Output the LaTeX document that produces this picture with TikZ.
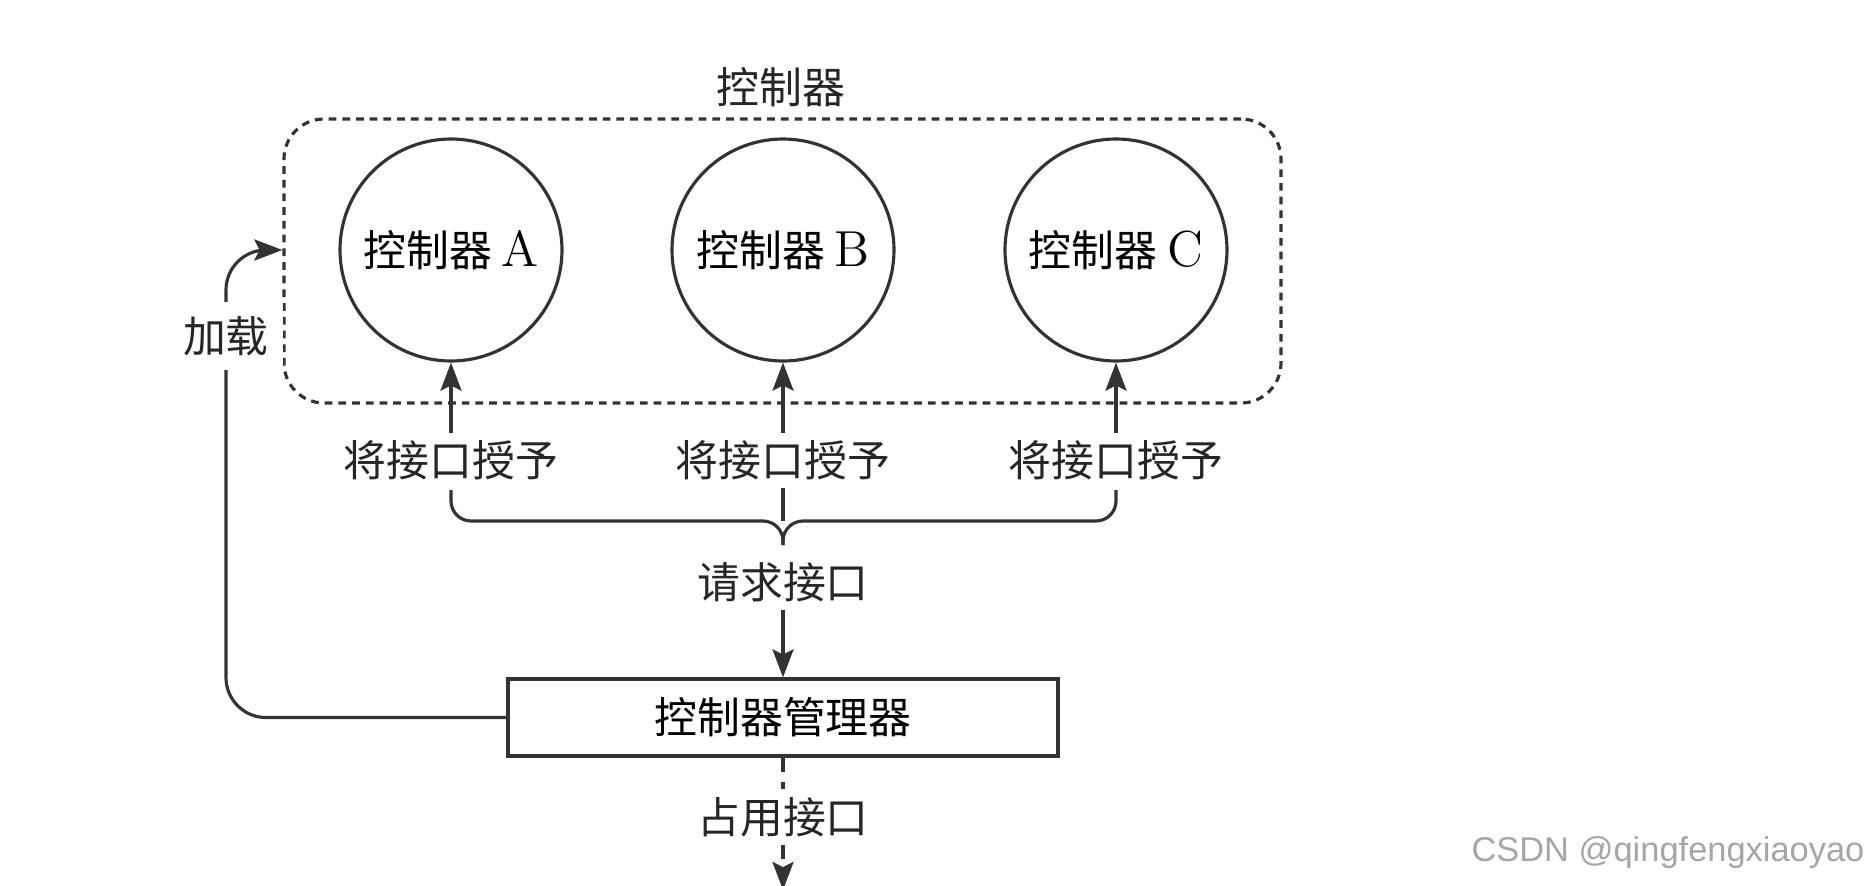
\documentclass[tikz,border=0pt]{standalone}
\usepackage{fontspec}
\newfontfamily\cjk{Noto Sans CJK SC}
\newfontfamily\wmfont{Liberation Sans}
\usetikzlibrary{arrows.meta, positioning}

\begin{document}
\begin{tikzpicture}[
		% Base line and arrow styles
		line/.style={draw=black!80, line width=0.9pt},
		arr/.style={line, -{Stealth[length=8pt, width=6pt, inset=1.5pt]}},
		% Style for the controller circles
		ctrl/.style={line, circle, minimum size=2.22cm, inner sep=0pt, font=\cjk\fontsize{12.2}{14}\selectfont},
		% Style for the dotted group frame
		group/.style={draw=black!80, line width=0.9pt, dash pattern=on 2.2pt off 1.7pt, rounded corners=0.4cm, minimum width=9.97cm, minimum height=2.84cm},
		% Manager box
		mgrbox/.style={line, rectangle, minimum width=5.5cm, minimum height=0.77cm, font=\cjk\fontsize{12.2}{14}\selectfont},
		% Text labels
		lbl/.style={font=\cjk\fontsize{12.2}{14}\selectfont, text=black!85, inner sep=2pt}
	]
	
	\useasboundingbox (0,0) rectangle (18.69,8.85);
	
	% ==============================================================================
	% CONTROLLER GROUP
	% ==============================================================================
	\node[group] (grp) at (7.825, 6.24) {};
	\node[lbl] (grptitle) at (7.81, 7.98) {控制器};
	
	\node[ctrl] (ctrlA) at (4.51, 6.35) {控制器 {\rmfamily\Large A}};
	\node[ctrl] (ctrlB) at (7.83, 6.35) {控制器 {\rmfamily\Large B}};
	\node[ctrl] (ctrlC) at (11.16, 6.35) {控制器 {\rmfamily\Large C}};
	
	% Interface grant labels
	\node[lbl, below=0.7cm of ctrlA] (grantA) {将接口授予};
	\node[lbl, below=0.7cm of ctrlB] (grantB) {将接口授予};
	\node[lbl, below=0.7cm of ctrlC] (grantC) {将接口授予};
	
	\draw[arr] (grantA.north) -- (ctrlA.south);
	\draw[arr] (grantB.north) -- (ctrlB.south);
	\draw[arr] (grantC.north) -- (ctrlC.south);
	
	% ==============================================================================
	% BRACE AND REQUEST
	% ==============================================================================
	\coordinate (braceL) at (4.51, 3.95);
	\coordinate (braceR) at (11.16, 3.95);
	\coordinate (braceM) at (7.83, 3.64);
	\coordinate (braceT) at (7.83, 3.40);
	\draw[line, rounded corners=0.2cm] (braceL) -- (braceL |- braceM) -- (braceM) -- (braceT);
	\draw[line, rounded corners=0.2cm] (braceR) -- (braceR |- braceM) -- (braceM) -- (braceT);
	\draw[line] (grantB.south) -- (braceM);
	
	\node[lbl] (request) at (7.83, 3.03) {请求接口};
	
	% ==============================================================================
	% MANAGER
	% ==============================================================================
	\node[mgrbox] (mgr) at (7.83, 1.675) {控制器管理器};
	\draw[arr] (request.south) -- (mgr.north);
	
	% Loading path back to the group
	\coordinate (loadin) at (grp.west |- ctrlA);
	\draw[arr, rounded corners=0.4cm] (mgr.west) -| (2.26, 6.35) -- (loadin);
	\node[lbl, fill=white, inner sep=4pt] (load) at (2.26, 5.49) {加载};
	
	% Occupy interface (dashed, leaving the picture)
	\node[lbl, fill=white] (occupy) at (7.83, 0.68) {占用接口};
	\coordinate (exit) at (7.83, -0.05);
	\draw[line, dash pattern=on 4pt off 3pt] (mgr.south) -- (occupy.north);
	\draw[arr, dash pattern=on 4pt off 3pt] (occupy.south) -- (exit);
	
	% Watermark
	\node[font=\wmfont\fontsize{9.8}{11}\selectfont, text=black!35] (wm) at (16.68, 0.32) {CSDN @qingfengxiaoyao};
	
\end{tikzpicture}
\end{document}
